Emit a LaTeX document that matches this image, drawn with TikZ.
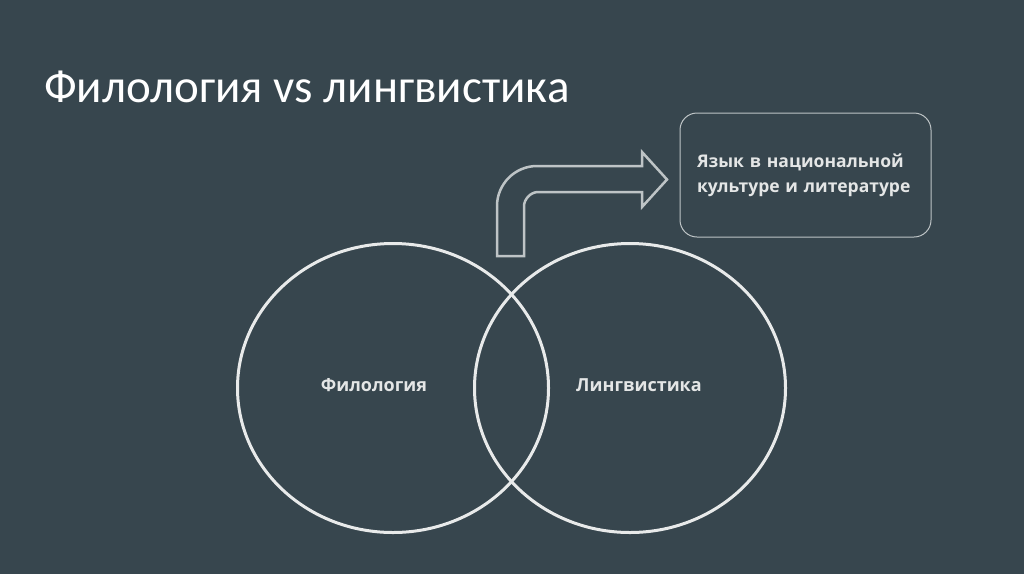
\documentclass[tikz,border=0pt]{standalone}
\usepackage{fontspec}
\setmainfont{Open Sans}
\newfontfamily\titlefont{Carlito}
\usetikzlibrary{shapes.geometric}
\definecolor{bg}{RGB}{55,70,78}
\definecolor{ring}{RGB}{232,234,234}
\definecolor{arrowgray}{RGB}{190,196,198}
\definecolor{txt}{RGB}{228,230,230}
\tikzset{
  ring/.style={draw=ring, line width=3pt, ellipse, minimum width=311pt, minimum height=289pt, inner sep=0pt},
  lbl/.style={text=txt, font=\bfseries\fontsize{18}{22}\selectfont, inner sep=0pt},
  infobox/.style={draw=arrowgray, line width=1pt, rounded corners=17pt, minimum height=124pt, text width=217pt, inner xsep=17pt, align=left, text=txt, font=\bfseries\fontsize{17.5}{25}\selectfont},
  bentarrow/.style={draw=arrowgray, line width=2.5pt, line join=miter}
}
\begin{document}
\begin{tikzpicture}[x=1pt,y=-1pt]
\fill[bg] (0,0) rectangle (1024,574);
\useasboundingbox (0,0) rectangle (1024,574);
\node[anchor=base west, text=white, font=\titlefont\fontsize{47}{56}\selectfont, inner sep=0pt] (title) at (44,102) {Филология vs лингвистика};
\node[ring] (phil) at (393,388) {};
\node[ring] (ling) at (630,388) {};
\node[lbl] (philtext) at (374,385) {Филология};
\node[lbl] (lingtext) at (639,385) {Лингвистика};
\node[infobox] (box) at (805.5,175) {Язык в национальной\\культуре и литературе};
\draw[bentarrow] (497,256) -- (497,206) .. controls (497,184) and (515,166) .. (537,166) -- (642,166) -- (642,152) -- (667,179.5) -- (642,207) -- (642,192) -- (538,192) .. controls (530.3,192) and (524,199.7) .. (524,206) -- (524,256) -- cycle;
\end{tikzpicture}
\end{document}
